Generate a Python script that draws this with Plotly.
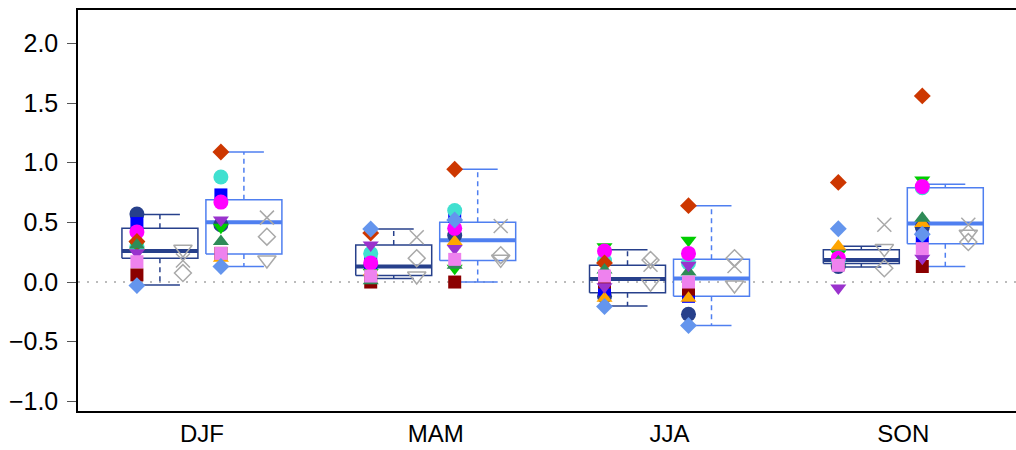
import plotly.graph_objects as go

# ---- categories -------------------------------------------------------------
seasons = ["DJF", "MAM", "JJA", "SON"]

# ---- box statistics: first (dark) and second (light) ensemble --------------
a_low = [-0.025, 0.03, -0.20, 0.125]
a_q1 = [0.20, 0.055, -0.09, 0.155]
a_med = [0.26, 0.13, 0.025, 0.185]
a_q3 = [0.45, 0.31, 0.14, 0.27]
a_high = [0.565, 0.445, 0.27, 0.30]

b_low = [0.13, 0.00, -0.365, 0.13]
b_q1 = [0.235, 0.18, -0.12, 0.32]
b_med = [0.50, 0.35, 0.03, 0.49]
b_q3 = [0.69, 0.50, 0.19, 0.79]
b_high = [1.09, 0.945, 0.64, 0.82]

# ---- individual model values (first ensemble / second ensemble) -----------
navy_a = [0.57, 0.14, -0.12, 0.13]
navy_b = [0.48, 0.39, -0.27, 0.46]
blue_a = [0.49, 0.16, -0.06, 0.16]
blue_b = [0.73, 0.55, -0.12, 0.37]
darkred_a = [0.06, 0.00, 0.00, 0.15]
darkred_b = [0.24, 0.00, -0.06, 0.13]
orange_a = [0.30, 0.085, -0.135, 0.30]
orange_b = [0.20, 0.34, -0.135, 0.49]
turq_a = [0.30, 0.24, 0.18, 0.18]
turq_b = [0.88, 0.60, 0.16, 0.79]
green_a = [0.31, 0.08, 0.295, 0.235]
green_b = [0.46, 0.115, 0.35, 0.855]
magenta_a = [0.42, 0.16, 0.26, 0.20]
magenta_b = [0.67, 0.45, 0.24, 0.80]
orangered_a = [0.34, 0.41, 0.16, 0.835]
orangered_b = [1.09, 0.945, 0.64, 1.56]
seagreen_a = [0.31, 0.01, 0.10, 0.17]
seagreen_b = [0.34, 0.14, 0.085, 0.535]
purple_a = [0.245, 0.31, -0.04, -0.05]
purple_b = [0.52, 0.28, 0.14, 0.20]
violet_a = [0.17, 0.05, 0.05, 0.14]
violet_b = [0.24, 0.19, 0.00, 0.28]
cornflower_a = [-0.03, 0.445, -0.205, 0.447]
cornflower_b = [0.13, 0.52, -0.365, 0.40]

# ---- reference datasets (grey open symbols) --------------------------------
obs_x_a = [0.18, 0.375, 0.145, 0.48]
obs_x_b = [0.54, 0.47, 0.135, 0.48]
obs_tri_a = [0.275, 0.05, -0.01, 0.28]
obs_tri_b = [0.185, 0.19, -0.025, 0.40]
obs_dia_a = [0.075, 0.20, 0.185, 0.115]
obs_dia_b = [0.38, 0.225, 0.20, 0.335]

# ---- styling ----------------------------------------------------------------
DARK = "#27408B"
LIGHT = "#4F7FF0"
GREY = "#A9A9A9"
FONT = "Liberation Sans, Arial, Helvetica, sans-serif"

GROUP_POS = list(range(len(seasons)))
BOX_SHIFT = 0.1796   # offset of each box from the group centre
BOX_HALF = 0.1625    # half box width
CAP_HALF = 0.0855    # half whisker-cap width
PT_SHIFT = 0.0984    # offset of symbol columns from box centre

models = [
    (navy_a, navy_b, "circle", DARK, 15),
    (blue_a, blue_b, "square", "#0000FF", 13),
    (darkred_a, darkred_b, "square", "#8B0000", 13),
    (orange_a, orange_b, "triangle-up", "#FFA500", 14),
    (turq_a, turq_b, "circle", "#40E0D0", 15),
    (green_a, green_b, "triangle-down", "#00CD00", 14),
    (magenta_a, magenta_b, "circle", "#FF00FF", 15),
    (orangered_a, orangered_b, "diamond", "#CD3700", 13),
    (seagreen_a, seagreen_b, "triangle-up", "#2E8B57", 14),
    (purple_a, purple_b, "triangle-down", "#9A32CD", 14),
    (violet_a, violet_b, "square", "#EE82EE", 13),
    (cornflower_a, cornflower_b, "diamond", "#6495ED", 13),
]

observations = [
    (obs_x_a, obs_x_b, "x-thin-open", 14),
    (obs_tri_a, obs_tri_b, "triangle-down-open", 16),
    (obs_dia_a, obs_dia_b, "diamond-open", 13),
]

fig = go.Figure()

# zero reference line
fig.add_trace(go.Scatter(
    x=[-0.53, 3.482], y=[0, 0], mode="lines",
    line=dict(color="#BBBBBB", width=2, dash="2px,7px"),
    hoverinfo="skip", showlegend=False,
))


def add_boxes(centres, low, q1, med, q3, high, colour):
    bx, by, mx, my, wx, wy, cx, cy = [], [], [], [], [], [], [], []
    for c, lo, a, m, b, hi in zip(centres, low, q1, med, q3, high):
        bx += [c - BOX_HALF, c + BOX_HALF, c + BOX_HALF, c - BOX_HALF, c - BOX_HALF, None]
        by += [a, a, b, b, a, None]
        mx += [c - BOX_HALF, c + BOX_HALF, None]
        my += [m, m, None]
        wx += [c, c, None, c, c, None]
        wy += [b, hi, None, a, lo, None]
        cx += [c - CAP_HALF, c + CAP_HALF, None, c - CAP_HALF, c + CAP_HALF, None]
        cy += [hi, hi, None, lo, lo, None]
    common = dict(mode="lines", hoverinfo="skip", showlegend=False)
    fig.add_trace(go.Scatter(x=wx, y=wy, line=dict(color=colour, width=1.5, dash="5px,4px"), **common))
    fig.add_trace(go.Scatter(x=cx, y=cy, line=dict(color=colour, width=1.5), **common))
    fig.add_trace(go.Scatter(x=bx, y=by, line=dict(color=colour, width=1.5), **common))
    fig.add_trace(go.Scatter(x=mx, y=my, line=dict(color=colour, width=4), **common))


centres_a = [g - BOX_SHIFT for g in GROUP_POS]
centres_b = [g + BOX_SHIFT for g in GROUP_POS]
add_boxes(centres_a, a_low, a_q1, a_med, a_q3, a_high, DARK)
add_boxes(centres_b, b_low, b_q1, b_med, b_q3, b_high, LIGHT)

# grey reference symbols to the right of each box
for va, vb, sym, size in observations:
    xs = [c + PT_SHIFT for c in centres_a] + [c + PT_SHIFT for c in centres_b]
    fig.add_trace(go.Scatter(
        x=xs, y=va + vb, mode="markers",
        marker=dict(symbol=sym, size=size, color=GREY, line=dict(color=GREY, width=1.5)),
        showlegend=False,
    ))

# model symbols to the left of each box
for va, vb, sym, colour, size in models:
    xs = [c - PT_SHIFT for c in centres_a] + [c - PT_SHIFT for c in centres_b]
    fig.add_trace(go.Scatter(
        x=xs, y=va + vb, mode="markers",
        marker=dict(symbol=sym, size=size, color=colour, line=dict(width=0)),
        showlegend=False,
    ))

fig.update_layout(
    width=1016, height=450,
    margin=dict(l=78, r=0, t=10, b=39),
    paper_bgcolor="white", plot_bgcolor="white",
    font=dict(family=FONT, size=24, color="black"),
)
fig.update_xaxes(
    range=[-0.53, 3.482], tickmode="array", tickvals=GROUP_POS, ticktext=seasons,
    showgrid=False, zeroline=False, ticks="",
    showline=True, linecolor="black", linewidth=1.5, mirror=True,
    tickfont=dict(size=24, color="black"),
)
fig.update_yaxes(
    range=[-1.081, 2.28], tickmode="array",
    tickvals=[-1.0, -0.5, 0.0, 0.5, 1.0, 1.5, 2.0], tickformat=".1f",
    showgrid=False, zeroline=False,
    ticks="outside", ticklen=9, tickwidth=1, tickcolor="#555555",
    showline=True, linecolor="black", linewidth=1.5, mirror=False,
    ticklabelstandoff=4,
    tickfont=dict(size=25, color="black"),
)

fig.write_html("out.html")
